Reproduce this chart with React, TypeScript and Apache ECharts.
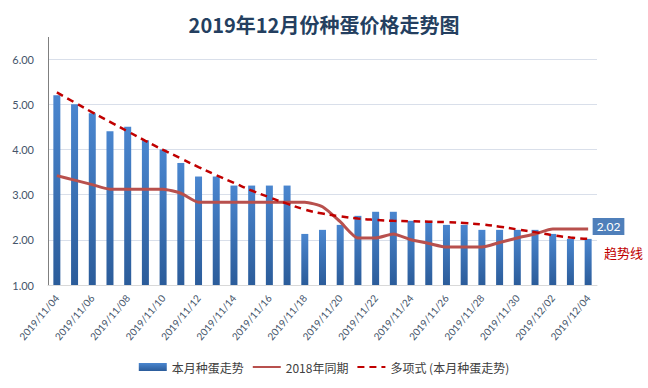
import React, { useEffect, useRef } from "react";
import * as echarts from "echarts";

const categories = [
  "2019/11/04", "2019/11/05", "2019/11/06", "2019/11/07", "2019/11/08", "2019/11/09",
  "2019/11/10", "2019/11/11", "2019/11/12", "2019/11/13", "2019/11/14", "2019/11/15",
  "2019/11/16", "2019/11/17", "2019/11/18", "2019/11/19", "2019/11/20", "2019/11/21",
  "2019/11/22", "2019/11/23", "2019/11/24", "2019/11/25", "2019/11/26", "2019/11/27",
  "2019/11/28", "2019/11/29", "2019/11/30", "2019/12/01", "2019/12/02", "2019/12/03",
  "2019/12/04",
];

const thisMonth = [
  5.2, 5.0, 4.8, 4.4, 4.5, 4.2, 4.0, 3.7, 3.4, 3.4, 3.2, 3.2, 3.2, 3.2, 2.13, 2.22,
  2.33, 2.53, 2.62, 2.62, 2.42, 2.42, 2.33, 2.33, 2.22, 2.22, 2.22, 2.22, 2.13, 2.02, 2.02,
];

const lastYear = [
  3.42, 3.32, 3.22, 3.12, 3.12, 3.12, 3.12, 3.03, 2.83, 2.83, 2.83, 2.83, 2.83, 2.83, 2.83,
  2.73, 2.4, 2.04, 2.04, 2.13, 2.0, 1.92, 1.84, 1.84, 1.84, 1.94, 2.04, 2.13, 2.24, 2.24, 2.24,
];

const trend = [
  5.26, 5.04, 4.82, 4.61, 4.4, 4.19, 3.99, 3.8, 3.61, 3.43, 3.26, 3.09, 2.94, 2.8, 2.67,
  2.58, 2.52, 2.47, 2.44, 2.42, 2.41, 2.4, 2.39, 2.37, 2.34, 2.29, 2.23, 2.17, 2.1, 2.05, 2.02,
];

const yTicks = [1, 2, 3, 4, 5, 6];

const seriesNames = ["本月种蛋走势", "2018年同期", "多项式 (本月种蛋走势)"];
const titleText = "2019年12月份种蛋价格走势图";
const trendNote = "趋势线";

export default function App() {
  const ref = useRef<HTMLDivElement>(null);

  useEffect(() => {
    if (!ref.current) return;
    const chart = echarts.init(ref.current, null, { renderer: "svg" });
    const last = thisMonth.length - 1;
    chart.setOption({
      animation: false,
      backgroundColor: "#ffffff",
      title: {
        text: titleText,
        left: "center",
        top: 9,
        textStyle: {
          fontFamily: "Noto Sans CJK SC",
          fontWeight: "bold",
          fontSize: 20,
          color: "#243f60",
        },
      },
      grid: { left: 48, right: 51, top: 59, bottom: 103 },
      legend: {
        bottom: 10,
        left: "center",
        itemGap: 8,
        itemWidth: 28,
        itemHeight: 8,
        textStyle: { fontFamily: "Noto Sans CJK SC", fontSize: 12, color: "#404040" },
        data: [
          { name: seriesNames[0], icon: "rect" },
          { name: seriesNames[1], itemStyle: { opacity: 0 } },
          { name: seriesNames[2], itemStyle: { opacity: 0 } },
        ],
      },
      xAxis: {
        type: "category",
        data: categories,
        boundaryGap: true,
        axisLine: { show: true, lineStyle: { color: "#d9d9d9" } },
        axisTick: { show: false },
        axisLabel: {
          interval: 1,
          rotate: 50,
          fontSize: 10,
          margin: 11,
          color: "#44546a",
          fontFamily: "Lato",
        },
      },
      yAxis: {
        type: "value",
        min: yTicks[0],
        max: yTicks[yTicks.length - 1],
        interval: 1,
        axisLine: { show: true, lineStyle: { color: "#7f7f7f" } },
        axisTick: { show: false },
        splitLine: { lineStyle: { color: "#d9dfea" } },
        axisLabel: {
          formatter: (v: number) => v.toFixed(2),
          fontSize: 11,
          color: "#44546a",
          fontFamily: "Lato",
          margin: 14,
        },
      },
      graphic: [
        {
          type: "line",
          shape: { x1: 48.5, y1: 37, x2: 48.5, y2: 59 },
          style: { stroke: "#7f7f7f", lineWidth: 1 },
        },
        {
          type: "text",
          left: 604,
          top: 246,
          style: {
            text: trendNote,
            fill: "#c00000",
            fontSize: 13,
            fontFamily: "Noto Sans CJK SC",
          },
        },
      ],
      series: [
        {
          name: seriesNames[0],
          type: "bar",
          barWidth: 7,
          itemStyle: {
            color: new echarts.graphic.LinearGradient(0, 0, 0, 1, [
              { offset: 0, color: "#4a86cf" },
              { offset: 1, color: "#2b5c9a" },
            ]),
          },
          data: thisMonth.map((v, i) =>
            i === last
              ? {
                  value: v,
                  label: {
                    show: true,
                    position: [8, -21],
                    formatter: (p: any) => Number(p.value).toFixed(2),
                    backgroundColor: "#4f7fba",
                    color: "#ffffff",
                    fontSize: 12,
                    fontFamily: "Lato",
                    padding: [3, 4, 2, 4],
                  },
                }
              : v
          ),
          z: 1,
        },
        {
          name: seriesNames[1],
          type: "line",
          data: lastYear,
          symbol: "none",
          smooth: 0.2,
          lineStyle: { color: "#b8504d", width: 3 },
          itemStyle: { color: "#b8504d" },
          z: 3,
        },
        {
          name: seriesNames[2],
          type: "line",
          data: trend,
          symbol: "none",
          smooth: true,
          lineStyle: { color: "#c00000", width: 2.5, type: [7, 5] },
          itemStyle: { color: "#c00000" },
          z: 4,
        },
      ],
    });
    return () => chart.dispose();
  }, []);

  return (
    <div
      ref={ref}
      style={{ position: "fixed", left: 0, top: 0, width: 648, height: 388 }}
    />
  );
}
